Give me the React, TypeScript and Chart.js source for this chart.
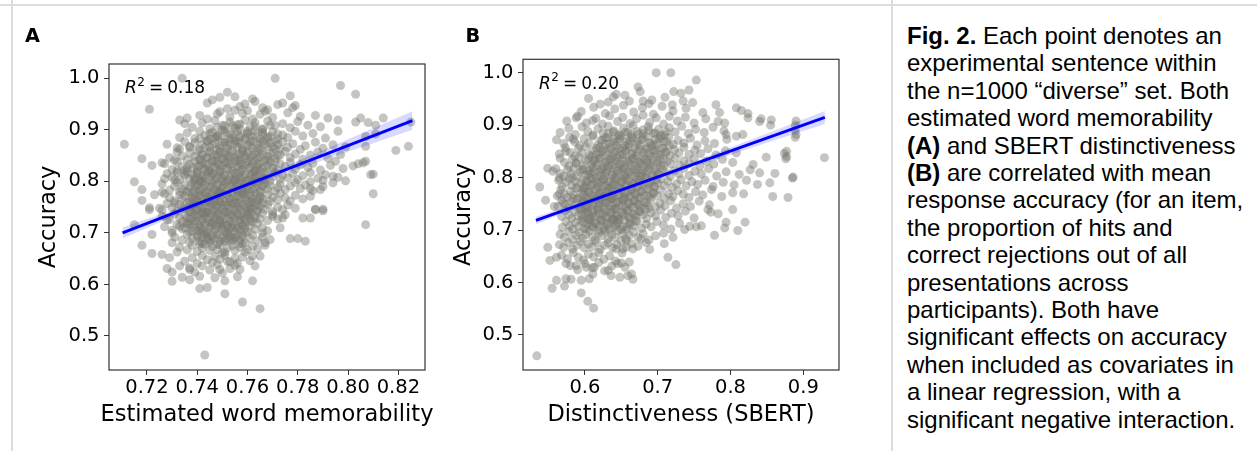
import React, { useEffect, useRef } from "react";
import { Chart, registerables } from "chart.js";
Chart.register(...registerables);

// ---------- Panel A: estimated word memorability vs accuracy ----------
const pointsA: number[][] = [
  [.734,1.0],[.771,1.0],[.797,.986],[.803,.969],[.721,.94],[.711,.872],
  [.749,.963],[.752,.973],[.755,.964],[.762,.96],[.777,.966],[.772,.949],[.778,.943],[.779,.947],[.759,.95],
  [.733,.919],[.736,.923],[.748,.931],[.766,.943],
  [.787,.928],[.792,.923],[.796,.919],[.803,.915],[.805,.923],[.808,.914],[.811,.909],[.814,.923],[.825,.915],
  [.819,.86],[.824,.868],[.807,.887],[.811,.892],[.807,.868],
  [.804,.834],[.807,.839],[.802,.83],[.795,.839],[.81,.814],[.81,.776],[.806,.836],[.809,.813],
  [.799,.801],[.794,.81],[.79,.802],[.785,.799],[.789,.784],[.785,.786],[.787,.746],[.79,.746],
  [.718,.844],[.722,.831],[.726,.836],[.715,.799],[.718,.784],[.718,.763],[.723,.774],[.726,.779],[.721,.749],[.725,.748],
  [.733,.863],[.737,.866],[.741,.883],[.748,.889],[.751,.908],[.756,.91],
  [.731,.803],[.727,.805],[.735,.815],[.732,.821],
  [.807,.716],[.743,.463],[.765,.553],[.758,.566],[.751,.582],
  [.741,.592],[.744,.594],[.73,.606],[.734,.614],[.737,.609],[.741,.616],[.747,.613],[.751,.607],[.756,.615],[.762,.607],[.763,.636],
  [.728,.631],[.73,.624],[.733,.636],[.737,.629],
  [.718,.676],[.722,.66],[.726,.658],[.729,.652],[.732,.663],
  [.777,.689],[.78,.689],[.783,.684],[.785,.729],[.782,.729],[.79,.743],[.787,.745],
  [.765,.655],[.762,.655],[.759,.663],[.757,.629],[.749,.629],[.752,.645],
  [.715,.716],[.722,.697],[.721,.745],[.73,.681],[.733,.713],[.73,.7],[.728,.726],
  [.767,.681],[.766,.7],[.773,.71],[.774,.729],[.77,.736],
  [.744,.952],[.757,.945],[.763,.955],[.768,.939],[.752,.941],[.746,.958],[.774,.952],[.76,.937],
  [.741,.928],[.749,.935],[.753,.925],[.758,.932],[.762,.921],[.765,.93],[.77,.924],[.776,.933],[.744,.921],[.781,.926],[.755,.938],[.767,.936],
  [.738,.905],[.742,.913],[.745,.902],[.747,.918],[.75,.909],[.753,.915],[.755,.903],[.757,.911],[.759,.919],[.761,.906],[.763,.914],[.766,.902],[.768,.917],[.771,.908],[.774,.912],[.777,.904],[.78,.916],[.784,.909],[.789,.906],[.735,.912],
  [.733,.885],[.736,.894],[.739,.883],[.741,.897],[.743,.889],[.745,.882],[.746,.895],[.748,.886],[.75,.899],[.751,.881],[.753,.892],[.754,.884],[.756,.897],[.757,.888],[.759,.881],[.76,.893],[.762,.886],[.763,.898],[.765,.883],[.766,.891],[.768,.886],[.77,.896],[.772,.882],[.774,.89],[.776,.885],[.779,.897],[.782,.888],[.786,.893],[.791,.884],[.796,.897],
  [.728,.872],[.732,.865],[.735,.877],[.737,.868],[.739,.875],[.741,.862],[.742,.871],[.744,.878],[.745,.866],[.747,.874],[.748,.861],[.749,.869],[.751,.876],[.752,.864],[.753,.872],[.755,.879],[.756,.867],[.757,.873],[.758,.861],[.76,.87],[.761,.877],[.762,.865],[.764,.872],[.765,.862],[.766,.878],[.768,.868],[.769,.874],[.771,.863],[.772,.871],[.774,.877],[.776,.866],[.778,.873],[.781,.862],[.783,.869],[.787,.876],[.79,.864],[.794,.871],[.799,.867],
  [.729,.846],[.732,.857],[.734,.849],[.736,.842],[.737,.855],[.739,.848],[.74,.859],[.741,.843],[.742,.851],[.744,.846],[.745,.856],[.746,.841],[.747,.852],[.748,.847],[.749,.858],[.75,.844],[.751,.853],[.752,.849],[.753,.841],[.754,.856],[.755,.846],[.756,.852],[.757,.843],[.758,.858],[.759,.849],[.76,.854],[.761,.842],[.762,.85],[.763,.857],[.764,.845],[.766,.853],[.767,.841],[.768,.848],[.77,.856],[.771,.844],[.773,.851],[.775,.858],[.777,.846],[.779,.853],[.782,.843],[.785,.851],[.788,.857],[.792,.845],[.797,.852],[.731,.841],
  [.727,.834],[.73,.823],[.732,.838],[.734,.829],[.735,.821],[.737,.833],[.738,.826],[.739,.839],[.74,.822],[.741,.831],[.742,.836],[.743,.825],[.744,.832],[.745,.821],[.746,.838],[.747,.828],[.748,.834],[.749,.823],[.75,.831],[.751,.837],[.752,.826],[.753,.833],[.754,.822],[.755,.839],[.756,.829],[.757,.835],[.758,.824],[.759,.831],[.76,.838],[.761,.827],[.762,.834],[.763,.821],[.764,.829],[.765,.836],[.766,.825],[.768,.832],[.769,.839],[.77,.827],[.772,.822],[.773,.834],[.775,.829],[.777,.837],[.779,.824],[.781,.832],[.784,.827],[.786,.835],[.789,.822],[.793,.831],[.798,.825],[.736,.826],
  [.728,.815],[.73,.808],[.732,.817],[.733,.803],[.735,.811],[.736,.818],[.737,.805],[.738,.813],[.739,.808],[.74,.816],[.741,.802],[.742,.811],[.743,.806],[.744,.818],[.745,.809],[.746,.814],[.747,.803],[.748,.811],[.749,.817],[.75,.806],[.751,.813],[.752,.801],[.753,.809],[.754,.815],[.755,.804],[.756,.812],[.757,.818],[.758,.807],[.759,.813],[.76,.802],[.761,.81],[.762,.816],[.763,.805],[.764,.812],[.765,.819],[.766,.808],[.767,.803],[.768,.814],[.77,.809],[.771,.817],[.773,.804],[.774,.812],[.776,.807],[.778,.815],[.78,.803],[.782,.811],[.785,.817],[.788,.806],[.791,.813],[.796,.808],[.739,.801],[.745,.819],[.75,.8],[.757,.801],[.763,.819],[.769,.801],
  [.726,.795],[.729,.783],[.731,.791],[.732,.798],[.734,.785],[.735,.793],[.736,.781],[.737,.789],[.738,.796],[.739,.784],[.74,.792],[.741,.799],[.742,.787],[.743,.794],[.744,.782],[.745,.79],[.746,.797],[.747,.785],[.748,.793],[.749,.781],[.75,.788],[.751,.795],[.752,.783],[.753,.791],[.754,.798],[.755,.786],[.756,.793],[.757,.781],[.758,.789],[.759,.796],[.76,.784],[.761,.792],[.762,.799],[.763,.787],[.764,.794],[.765,.782],[.766,.79],[.767,.797],[.768,.785],[.769,.792],[.771,.781],[.772,.788],[.773,.795],[.775,.784],[.777,.791],[.779,.798],[.781,.786],[.783,.793],[.786,.782],[.79,.79],[.794,.797],[.742,.8],[.748,.78],[.755,.8],[.758,.78],[.764,.8],[.733,.78],
  [.727,.776],[.729,.768],[.731,.762],[.733,.774],[.734,.766],[.736,.779],[.737,.761],[.738,.77],[.739,.775],[.74,.763],[.741,.772],[.742,.767],[.743,.778],[.744,.761],[.745,.769],[.746,.775],[.747,.764],[.748,.772],[.749,.779],[.75,.766],[.751,.761],[.752,.774],[.753,.768],[.754,.777],[.755,.762],[.756,.771],[.757,.765],[.758,.776],[.759,.769],[.76,.762],[.761,.774],[.762,.767],[.763,.778],[.764,.763],[.765,.771],[.766,.766],[.768,.775],[.769,.761],[.77,.769],[.772,.764],[.773,.777],[.775,.768],[.777,.762],[.779,.773],[.782,.766],[.785,.771],[.744,.77],[.75,.776],[.756,.779],[.741,.78],[.747,.76],[.753,.76],[.759,.78],[.735,.771],[.762,.76],[.739,.766],
  [.726,.745],[.728,.757],[.73,.749],[.732,.742],[.733,.755],[.735,.747],[.736,.759],[.737,.741],[.738,.751],[.739,.756],[.74,.744],[.741,.753],[.742,.748],[.743,.758],[.744,.741],[.745,.75],[.746,.755],[.747,.744],[.748,.752],[.749,.759],[.75,.746],[.751,.741],[.752,.754],[.753,.748],[.754,.757],[.755,.743],[.756,.751],[.757,.746],[.758,.756],[.759,.749],[.76,.742],[.761,.753],[.762,.747],[.763,.758],[.764,.744],[.765,.751],[.767,.746],[.768,.755],[.77,.741],[.772,.75],[.774,.745],[.776,.754],[.779,.748],[.745,.76],[.75,.755],[.739,.746],[.756,.758],[.742,.741],[.748,.742],[.734,.75],[.761,.746],[.766,.758],[.731,.758],
  [.726,.733],[.729,.726],[.731,.737],[.733,.729],[.734,.722],[.735,.735],[.737,.727],[.738,.739],[.739,.723],[.74,.731],[.741,.736],[.742,.724],[.743,.733],[.744,.728],[.745,.738],[.746,.721],[.747,.73],[.748,.735],[.749,.725],[.75,.732],[.751,.739],[.752,.727],[.753,.721],[.754,.734],[.755,.729],[.756,.738],[.757,.723],[.758,.731],[.759,.726],[.76,.736],[.761,.729],[.762,.722],[.763,.733],[.765,.727],[.766,.738],[.768,.724],[.77,.732],[.772,.727],[.775,.735],[.744,.739],[.749,.72],[.753,.737],[.738,.73],[.736,.72],[.761,.739],[.747,.726],[.742,.738],[.757,.734],
  [.727,.712],[.73,.705],[.732,.716],[.734,.708],[.736,.718],[.737,.702],[.738,.711],[.739,.717],[.74,.704],[.741,.713],[.742,.708],[.743,.719],[.744,.701],[.745,.71],[.746,.715],[.747,.705],[.748,.712],[.749,.718],[.75,.707],[.751,.702],[.752,.714],[.753,.709],[.754,.717],[.755,.703],[.756,.711],[.757,.706],[.758,.716],[.759,.709],[.76,.702],[.761,.713],[.763,.707],[.764,.718],[.766,.71],[.768,.704],[.745,.719],[.75,.715],[.741,.703],[.754,.711],[.735,.71],[.759,.719],
  [.731,.692],[.734,.686],[.736,.697],[.737,.682],[.738,.69],[.74,.695],[.741,.684],[.742,.692],[.743,.698],[.744,.687],[.745,.681],[.746,.694],[.747,.689],[.748,.697],[.749,.683],[.75,.691],[.751,.686],[.752,.699],[.753,.693],[.754,.684],[.755,.69],[.756,.696],[.757,.686],[.758,.693],[.759,.681],[.761,.689],[.762,.696],[.764,.685],[.766,.692],[.769,.687],[.744,.693],[.752,.688],
  [.733,.672],[.736,.667],[.738,.676],[.74,.664],[.742,.671],[.743,.678],[.745,.666],[.746,.673],[.748,.668],[.749,.677],[.751,.663],[.752,.671],[.754,.675],[.755,.666],[.757,.672],[.758,.679],[.76,.667],[.762,.674],[.764,.669],[.767,.676],[.741,.679],[.75,.661],
  [.735,.645],[.738,.652],[.74,.641],[.742,.656],[.744,.648],[.746,.643],[.747,.654],[.749,.649],[.751,.657],[.753,.644],[.755,.651],[.756,.641],[.758,.653],[.761,.646],
  [.737,.632],[.739,.624],[.742,.636],[.745,.628],[.748,.638],[.75,.622],[.753,.631],[.755,.637],
];

// dense centre of the panel A cloud
const coreA: number[][] = [
  [.748,.905],[.751,.899],[.754,.908],[.757,.902],[.76,.897],[.763,.906],[.766,.9],[.769,.909],
  [.745,.893],[.748,.888],[.751,.895],[.754,.89],[.757,.886],[.76,.894],[.763,.889],[.766,.895],[.769,.887],[.772,.892],
  [.744,.879],[.747,.884],[.75,.876],[.753,.882],[.756,.877],[.759,.884],[.762,.879],[.765,.876],[.768,.883],[.771,.878],
  [.743,.866],[.746,.871],[.749,.864],[.752,.869],[.755,.873],[.758,.865],[.761,.87],[.764,.864],[.767,.872],[.77,.867],[.773,.863],
  [.742,.853],[.745,.858],[.748,.851],[.751,.856],[.754,.86],[.757,.852],[.76,.857],[.763,.851],[.766,.859],[.769,.854],[.772,.85],
  [.741,.842],[.744,.846],[.747,.839],[.75,.844],[.753,.848],[.756,.84],[.759,.845],[.762,.839],[.765,.847],[.768,.842],[.771,.838],
  [.74,.829],[.743,.834],[.746,.827],[.749,.832],[.752,.836],[.755,.828],[.758,.833],[.761,.826],[.764,.834],[.767,.829],[.77,.825],
  [.74,.817],[.743,.822],[.746,.815],[.749,.82],[.752,.824],[.755,.816],[.758,.821],[.761,.814],[.764,.822],[.767,.817],
  [.739,.804],[.742,.809],[.745,.802],[.748,.807],[.751,.811],[.754,.803],[.757,.808],[.76,.801],[.763,.809],[.766,.804],
  [.739,.792],[.742,.797],[.745,.79],[.748,.795],[.751,.799],[.754,.791],[.757,.796],[.76,.789],[.763,.797],[.766,.792],
  [.738,.779],[.741,.784],[.744,.777],[.747,.782],[.75,.786],[.753,.778],[.756,.783],[.759,.776],[.762,.784],[.765,.779],
  [.738,.767],[.741,.772],[.744,.765],[.747,.77],[.75,.774],[.753,.766],[.756,.771],[.759,.764],[.762,.772],[.765,.767],
  [.737,.754],[.74,.759],[.743,.752],[.746,.757],[.749,.761],[.752,.753],[.755,.758],[.758,.751],[.761,.759],[.764,.754],
  [.737,.742],[.74,.747],[.743,.74],[.746,.745],[.749,.749],[.752,.741],[.755,.746],[.758,.739],[.761,.747],[.764,.742],
  [.736,.729],[.739,.734],[.742,.727],[.745,.732],[.748,.736],[.751,.728],[.754,.733],[.757,.726],[.76,.734],[.763,.729],
  [.737,.717],[.74,.722],[.743,.715],[.746,.72],[.749,.724],[.752,.716],[.755,.721],[.758,.714],[.761,.722],
  [.738,.704],[.741,.709],[.744,.702],[.747,.707],[.75,.711],[.753,.703],[.756,.708],[.759,.701],
  [.74,.692],[.743,.697],[.746,.69],[.749,.695],[.752,.699],[.755,.691],[.758,.696],
  [.742,.68],[.745,.685],[.748,.678],[.751,.683],[.754,.687],[.757,.679],
];

// regression fit and 95% band (panel A)
const fitXA = [0.7103, 0.8256];
const fitYA = [0.700, 0.918];
const bandXA = [0.7103, 0.72, 0.73, 0.74, 0.752, 0.765, 0.78, 0.795, 0.81, 0.8256];
const bandLowA = [0.6893, 0.7097, 0.7307, 0.7513, 0.7749, 0.7983, 0.824, 0.8492, 0.8741, 0.900];
const bandHighA = [0.7107, 0.7269, 0.7439, 0.7611, 0.7829, 0.8085, 0.8396, 0.8712, 0.9029, 0.936];

// ---------- Panel B: SBERT distinctiveness vs accuracy ----------
const pointsB: number[][] = [
  [.698,1.0],[.718,1.0],[.753,.986],[.673,.973],[.676,.964],[.722,.964],[.732,.961],[.743,.967],[.643,.959],[.639,.954],
  [.621,.94],[.588,.914],[.611,.909],[.661,.946],[.68,.946],[.692,.948],
  [.72,.939],[.748,.943],[.78,.939],[.808,.933],[.824,.922],[.842,.912],[.856,.91],
  [.89,.908],[.89,.882],[.929,.838],
  [.874,.846],[.876,.836],[.885,.799],[.879,.762],[.858,.764],[.818,.769],
  [.831,.825],[.84,.809],[.854,.79],[.837,.787],
  [.794,.882],[.817,.882],[.808,.879],[.792,.904],[.785,.924],
  [.849,.839],[.861,.808],[.886,.801],[.877,.85],[.877,.84],[.889,.9],[.889,.89],[.889,.877],[.84,.907],[.855,.9],[.815,.928],[.824,.914],
  [.538,.782],[.549,.818],[.556,.812],[.565,.799],[.574,.85],[.584,.873],[.588,.828],[.597,.815],[.609,.841],[.546,.757],
  [.558,.745],[.57,.752],[.565,.768],
  [.534,.46],[.612,.551],[.604,.564],[.595,.58],
  [.555,.589],[.572,.593],[.561,.604],[.574,.607],[.581,.606],[.595,.604],[.606,.607],[.611,.616],
  [.636,.613],[.648,.61],[.659,.613],[.666,.606],[.664,.616],
  [.632,.623],[.655,.629],[.645,.636],[.661,.639],
  [.549,.667],[.552,.642],[.561,.648],[.574,.636],[.588,.632],[.602,.629],[.613,.629],
  [.714,.648],[.725,.634],[.689,.663],[.709,.674],
  [.778,.69],[.81,.699],[.82,.715],[.794,.715],[.792,.704],
  [.753,.706],[.76,.708],[.737,.701],[.773,.734],[.783,.731],[.803,.739],[.769,.739],
  [.666,.664],[.677,.683],[.657,.68],[.652,.664],[.643,.664],
  [.605,.951],[.632,.944],[.655,.957],[.688,.941],[.71,.953],[.735,.946],
  [.595,.926],[.612,.934],[.628,.922],[.641,.931],[.653,.938],[.667,.925],[.679,.933],[.694,.921],[.706,.936],[.721,.927],[.739,.932],[.762,.924],
  [.575,.908],[.59,.917],[.602,.904],[.615,.913],[.624,.902],[.634,.918],[.645,.907],[.652,.915],[.662,.903],[.671,.912],[.68,.919],[.689,.905],[.698,.914],[.708,.902],[.716,.917],[.727,.908],[.738,.915],[.75,.904],[.766,.912],[.783,.907],
  [.566,.886],[.578,.894],[.587,.882],[.596,.897],[.604,.888],[.611,.881],[.618,.893],[.625,.885],[.632,.898],[.639,.887],[.646,.881],[.653,.894],[.659,.886],[.666,.899],[.673,.883],[.68,.891],[.687,.897],[.694,.884],[.701,.892],[.709,.881],[.716,.895],[.724,.887],[.733,.898],[.742,.884],[.752,.892],[.764,.886],[.776,.896],[.791,.889],
  [.561,.872],[.571,.865],[.579,.877],[.586,.868],[.593,.861],[.599,.874],[.605,.866],[.611,.879],[.617,.862],[.622,.871],[.628,.876],[.633,.864],[.639,.873],[.644,.868],[.65,.878],[.655,.861],[.661,.87],[.666,.875],[.672,.864],[.678,.872],[.684,.879],[.69,.866],[.696,.861],[.702,.874],[.708,.869],[.715,.877],[.721,.863],[.728,.871],[.736,.866],[.745,.875],[.754,.862],[.765,.87],[.778,.865],[.795,.873],
  [.565,.845],[.573,.857],[.58,.848],[.586,.841],[.591,.855],[.596,.847],[.601,.859],[.606,.843],[.611,.851],[.616,.856],[.62,.844],[.625,.853],[.629,.848],[.634,.858],[.638,.841],[.643,.85],[.647,.855],[.652,.844],[.656,.852],[.661,.859],[.665,.846],[.67,.841],[.675,.854],[.68,.848],[.685,.857],[.69,.842],[.695,.851],[.7,.846],[.706,.856],[.711,.849],[.717,.842],[.723,.853],[.729,.847],[.736,.858],[.743,.844],[.751,.852],[.759,.846],[.769,.855],[.78,.843],[.793,.851],[.808,.847],
  [.566,.837],[.572,.829],[.578,.822],[.583,.835],[.588,.827],[.592,.839],[.597,.824],[.601,.832],[.605,.836],[.609,.825],[.613,.833],[.617,.828],[.621,.838],[.625,.821],[.629,.83],[.633,.835],[.637,.824],[.641,.832],[.645,.839],[.649,.826],[.653,.821],[.657,.834],[.661,.828],[.665,.837],[.669,.822],[.673,.831],[.677,.826],[.681,.836],[.686,.829],[.69,.822],[.694,.833],[.699,.827],[.703,.838],[.708,.823],[.713,.831],[.718,.826],[.724,.837],[.73,.824],[.736,.832],[.743,.827],[.75,.836],[.758,.822],[.767,.831],[.777,.826],[.789,.835],[.803,.829],
  [.56,.817],[.566,.808],[.571,.802],[.576,.815],[.581,.807],[.585,.818],[.589,.803],[.593,.811],[.597,.816],[.601,.805],[.605,.813],[.608,.808],[.612,.818],[.616,.801],[.619,.81],[.623,.815],[.627,.804],[.63,.812],[.634,.819],[.638,.806],[.641,.801],[.645,.814],[.649,.808],[.652,.817],[.656,.802],[.66,.811],[.664,.806],[.668,.816],[.672,.809],[.676,.802],[.68,.813],[.684,.807],[.688,.818],[.693,.803],[.697,.811],[.702,.806],[.707,.816],[.712,.809],[.717,.802],[.723,.813],[.729,.807],[.736,.818],[.743,.804],[.751,.812],[.76,.807],[.77,.817],[.781,.803],[.794,.811],[.812,.806],[.827,.815],
  [.564,.795],[.569,.783],[.574,.791],[.578,.798],[.582,.785],[.586,.793],[.59,.781],[.594,.789],[.597,.796],[.601,.784],[.604,.792],[.608,.799],[.611,.787],[.615,.794],[.618,.782],[.622,.79],[.625,.797],[.629,.785],[.632,.793],[.636,.781],[.639,.788],[.643,.795],[.646,.783],[.65,.791],[.653,.798],[.657,.786],[.66,.794],[.664,.782],[.668,.789],[.671,.796],[.675,.784],[.679,.792],[.683,.799],[.687,.787],[.691,.794],[.695,.782],[.7,.79],[.704,.797],[.709,.785],[.714,.793],[.72,.781],[.726,.788],[.732,.796],[.739,.784],[.747,.792],[.755,.787],[.765,.795],[.776,.783],[.79,.791],[.805,.786],[.822,.795],[.583,.8],
  [.562,.765],[.567,.777],[.572,.768],[.576,.762],[.58,.774],[.584,.767],[.588,.779],[.591,.761],[.595,.77],[.598,.775],[.602,.763],[.605,.772],[.609,.767],[.612,.778],[.616,.761],[.619,.769],[.623,.775],[.626,.764],[.63,.772],[.633,.779],[.637,.766],[.64,.761],[.644,.774],[.647,.768],[.651,.777],[.654,.762],[.658,.771],[.661,.765],[.665,.776],[.669,.769],[.673,.762],[.677,.774],[.681,.767],[.685,.778],[.689,.763],[.694,.771],[.699,.766],[.704,.776],[.709,.761],[.715,.769],[.721,.764],[.728,.775],[.735,.768],[.743,.762],[.752,.773],[.762,.767],[.774,.777],[.788,.764],[.803,.771],[.598,.78],[.637,.76],
  [.563,.745],[.568,.757],[.573,.749],[.577,.742],[.581,.755],[.585,.747],[.589,.759],[.592,.741],[.596,.751],[.599,.756],[.603,.744],[.606,.753],[.61,.748],[.613,.758],[.617,.741],[.62,.75],[.624,.755],[.627,.744],[.631,.752],[.634,.759],[.638,.746],[.641,.741],[.645,.754],[.648,.748],[.652,.757],[.656,.743],[.66,.751],[.664,.746],[.668,.756],[.672,.749],[.676,.742],[.681,.753],[.686,.747],[.691,.758],[.697,.744],[.703,.751],[.71,.746],[.718,.756],[.726,.742],[.735,.75],[.745,.745],[.757,.755],[.771,.748],[.584,.76],[.622,.76],[.655,.76],[.688,.741],
  [.568,.726],[.573,.737],[.578,.729],[.582,.722],[.586,.735],[.59,.727],[.594,.739],[.597,.723],[.601,.731],[.604,.736],[.608,.724],[.611,.733],[.615,.728],[.618,.738],[.622,.721],[.625,.73],[.629,.735],[.632,.724],[.636,.732],[.639,.739],[.643,.726],[.646,.721],[.65,.734],[.654,.728],[.658,.737],[.662,.722],[.666,.731],[.67,.726],[.675,.736],[.68,.729],[.685,.722],[.691,.733],[.697,.727],[.704,.738],[.711,.724],[.719,.732],[.728,.727],[.738,.736],[.75,.723],[.6,.74],[.64,.72],
  [.569,.705],[.574,.716],[.579,.708],[.583,.702],[.587,.714],[.591,.707],[.595,.718],[.599,.703],[.603,.711],[.607,.716],[.611,.705],[.615,.713],[.619,.708],[.623,.718],[.627,.701],[.631,.71],[.635,.715],[.639,.704],[.643,.712],[.647,.719],[.652,.706],[.657,.701],[.662,.714],[.667,.708],[.672,.717],[.678,.703],[.684,.711],[.691,.706],[.699,.716],[.708,.709],[.718,.702],[.73,.713],[.744,.707],[.605,.72],[.638,.72],
  [.566,.692],[.572,.686],[.578,.697],[.583,.682],[.588,.69],[.592,.695],[.597,.684],[.601,.692],[.606,.698],[.61,.687],[.614,.681],[.619,.694],[.623,.689],[.628,.697],[.632,.683],[.637,.691],[.641,.686],[.646,.699],[.651,.693],[.656,.684],[.661,.69],[.667,.696],[.673,.686],[.68,.693],[.688,.681],[.697,.689],[.708,.694],[.721,.686],
  [.565,.672],[.571,.667],[.577,.676],[.583,.664],[.589,.671],[.594,.678],[.599,.666],[.605,.673],[.61,.668],[.616,.677],[.621,.663],[.627,.671],[.632,.675],[.638,.666],[.644,.672],[.65,.679],[.657,.667],[.664,.674],[.673,.669],[.684,.676],
  [.568,.652],[.576,.645],[.584,.657],[.591,.648],[.598,.643],[.605,.654],[.612,.649],[.619,.657],[.626,.644],[.634,.651],[.642,.641],[.651,.656],
  [.58,.632],[.59,.624],[.6,.636],[.61,.628],[.619,.638],[.627,.622],[.637,.631],[.65,.637],
];

// dense centre of the panel B cloud
const coreB: number[][] = [
  [.632,.884],[.64,.889],[.648,.881],[.656,.887],[.664,.882],[.672,.888],[.68,.883],[.688,.89],[.696,.885],[.704,.881],[.712,.887],
  [.624,.871],[.632,.876],[.64,.868],[.648,.874],[.656,.869],[.664,.877],[.672,.87],[.68,.875],[.688,.867],[.696,.873],[.704,.878],[.712,.869],
  [.62,.858],[.628,.863],[.636,.855],[.644,.861],[.652,.856],[.66,.864],[.668,.857],[.676,.862],[.684,.854],[.692,.86],[.7,.865],[.708,.856],[.716,.861],
  [.616,.845],[.624,.85],[.632,.842],[.64,.848],[.648,.843],[.656,.851],[.664,.844],[.672,.849],[.68,.841],[.688,.847],[.696,.852],[.704,.843],[.712,.848],
  [.612,.832],[.62,.837],[.628,.829],[.636,.835],[.644,.83],[.652,.838],[.66,.831],[.668,.836],[.676,.828],[.684,.834],[.692,.839],[.7,.83],[.708,.835],
  [.608,.819],[.616,.824],[.624,.816],[.632,.822],[.64,.817],[.648,.825],[.656,.818],[.664,.823],[.672,.815],[.68,.821],[.688,.826],[.696,.817],[.704,.822],
  [.605,.806],[.613,.811],[.621,.803],[.629,.809],[.637,.804],[.645,.812],[.653,.805],[.661,.81],[.669,.802],[.677,.808],[.685,.813],[.693,.804],[.701,.809],
  [.602,.793],[.61,.798],[.618,.79],[.626,.796],[.634,.791],[.642,.799],[.65,.792],[.658,.797],[.666,.789],[.674,.795],[.682,.8],[.69,.791],[.698,.796],
  [.6,.78],[.608,.785],[.616,.777],[.624,.783],[.632,.778],[.64,.786],[.648,.779],[.656,.784],[.664,.776],[.672,.782],[.68,.787],[.688,.778],[.696,.783],
  [.598,.767],[.606,.772],[.614,.764],[.622,.77],[.63,.765],[.638,.773],[.646,.766],[.654,.771],[.662,.763],[.67,.769],[.678,.774],[.686,.765],[.694,.77],
  [.596,.754],[.604,.759],[.612,.751],[.62,.757],[.628,.752],[.636,.76],[.644,.753],[.652,.758],[.66,.75],[.668,.756],[.676,.761],[.684,.752],
  [.595,.741],[.603,.746],[.611,.738],[.619,.744],[.627,.739],[.635,.747],[.643,.74],[.651,.745],[.659,.737],[.667,.743],[.675,.748],[.683,.739],
  [.596,.728],[.604,.733],[.612,.725],[.62,.731],[.628,.726],[.636,.734],[.644,.727],[.652,.732],[.66,.724],[.668,.73],[.676,.735],
  [.598,.715],[.606,.72],[.614,.712],[.622,.718],[.63,.713],[.638,.721],[.646,.714],[.654,.719],[.662,.711],[.67,.717],
  [.602,.702],[.61,.707],[.618,.699],[.626,.705],[.634,.7],[.642,.708],[.65,.701],[.658,.706],
];

const fitXB = [0.5328, 0.9296];
const fitYB = [0.7184, 0.9147];
const bandXB = [0.5328, 0.56, 0.6, 0.64, 0.665, 0.70, 0.75, 0.80, 0.85, 0.9296];
const bandLowB = [0.7116, 0.7262, 0.7474, 0.7682, 0.7808, 0.7977, 0.8209, 0.8437, 0.8664, 0.9022];
const bandHighB = [0.7252, 0.7376, 0.7558, 0.7746, 0.7868, 0.8045, 0.8307, 0.8575, 0.8842, 0.9272];

// ---------- axes ----------
const yTicks = [0.5, 0.6, 0.7, 0.8, 0.9, 1.0];
const xTicksA = [0.72, 0.74, 0.76, 0.78, 0.8, 0.82];
const xTicksB = [0.6, 0.7, 0.8, 0.9];
const xRangeA = [0.7049, 0.8306];
const xRangeB = [0.515, 0.949];
const yRangeA = [0.434, 1.0277];
const yRangeB = [0.433, 1.0256];
const r2Labels = ["0.18", "0.20"];
const xTitles = ["Estimated word memorability", "Distinctiveness (SBERT)"];
const yTitle = "Accuracy";

const FONT = "DejaVu Sans";
const POINT_COLOR = "rgba(120,120,112,0.44)";
const TITLE_SIZE = 22.5;
const TICK_SIZE = 19.5;

type Panel = {
  points: number[][];
  fitX: number[]; fitY: number[];
  bandX: number[]; bandLow: number[]; bandHigh: number[];
  xTicks: number[]; xDec: number; xRange: number[]; yRange: number[];
  xTitle: string; r2: string;
  yAxisW: number; padTop: number; padRight: number; yTitlePad: number;
};

const spinesPlugin = {
  id: "spines",
  afterDraw(chart: any) {
    const { ctx, chartArea: a } = chart;
    ctx.save();
    ctx.strokeStyle = "#333333";
    ctx.lineWidth = 1.2;
    ctx.strokeRect(a.left, a.top, a.right - a.left, a.bottom - a.top);
    ctx.restore();
  },
};

// x-axis title drawn without Chart.js's maxWidth squeeze (the label is wider than the axes)
function xTitlePlugin(text: string) {
  return {
    id: "xtitle",
    afterDraw(chart: any) {
      const { ctx, chartArea: a } = chart;
      ctx.save();
      ctx.fillStyle = "#000";
      ctx.textAlign = "center";
      ctx.textBaseline = "alphabetic";
      ctx.font = `${TITLE_SIZE}px "${FONT}"`;
      ctx.fillText(text, (a.left + a.right) / 2, 420.7);
      ctx.restore();
    },
  };
}

function r2Plugin(value: string) {
  return {
    id: "r2label",
    afterDatasetsDraw(chart: any) {
      const { ctx, chartArea: a } = chart;
      const x = a.left + 16;
      const y = a.top + 29.3;
      ctx.save();
      ctx.fillStyle = "#000";
      ctx.textAlign = "left";
      ctx.textBaseline = "alphabetic";
      ctx.font = `italic 17px "${FONT}"`;
      ctx.fillText("R", x, y);
      let cx = x + ctx.measureText("R").width + 0.5;
      ctx.font = `12px "${FONT}"`;
      ctx.fillText("2", cx, y - 7.5);
      cx += ctx.measureText("2").width + 4;
      ctx.font = `17px "${FONT}"`;
      ctx.fillText("=", cx, y);
      cx += ctx.measureText("=").width + 4;
      ctx.fillText(value, cx, y);
      ctx.restore();
    },
  };
}

function buildChart(canvas: HTMLCanvasElement, p: Panel) {
  const pts = p.points.map(([x, y]) => ({ x, y }));
  const low = p.bandX.map((x, i) => ({ x, y: p.bandLow[i] }));
  const high = p.bandX.map((x, i) => ({ x, y: p.bandHigh[i] }));
  const fit = p.fitX.map((x, i) => ({ x, y: p.fitY[i] }));
  const tickFont = { family: FONT, size: TICK_SIZE };
  const titleFont = { family: FONT, size: TITLE_SIZE };
  return new Chart(canvas, {
    type: "scatter",
    data: {
      datasets: [
        { data: pts, pointRadius: 4.5, pointBackgroundColor: POINT_COLOR, pointBorderWidth: 0, pointHoverRadius: 4.5, order: 3 } as any,
        { type: "line", data: low, borderWidth: 0, pointRadius: 0, fill: false, order: 2, borderColor: "rgba(0,0,0,0)" } as any,
        { type: "line", data: high, borderWidth: 0, pointRadius: 0, fill: "-1", backgroundColor: "rgba(0,0,255,0.15)", order: 2, borderColor: "rgba(0,0,0,0)" } as any,
        { type: "line", data: fit, borderWidth: 3, borderColor: "#0000ff", pointRadius: 0, fill: false, order: 1 } as any,
      ],
    },
    options: {
      animation: false,
      responsive: false,
      devicePixelRatio: 1,
      events: [],
      layout: { padding: { left: 0, right: p.padRight, top: p.padTop, bottom: 0 } },
      plugins: { legend: { display: false }, tooltip: { enabled: false } },
      scales: {
        x: {
          type: "linear",
          position: "bottom",
          min: p.xRange[0],
          max: p.xRange[1],
          afterBuildTicks: (s: any) => { s.ticks = p.xTicks.map((v) => ({ value: v })); },
          afterFit: (s: any) => { s.height = 81; },
          ticks: { callback: (v: any) => Number(v).toFixed(p.xDec), font: tickFont, color: "#000", padding: 1.5, maxRotation: 0, autoSkip: false },
          grid: { display: true, drawOnChartArea: false, drawTicks: true, tickLength: 5, color: "#333", lineWidth: 1 },
          border: { display: false },
          title: { display: false },
        },
        y: {
          type: "linear",
          min: p.yRange[0],
          max: p.yRange[1],
          afterBuildTicks: (s: any) => { s.ticks = yTicks.map((v) => ({ value: v })); },
          afterFit: (s: any) => { s.width = p.yAxisW; },
          ticks: { callback: (v: any) => Number(v).toFixed(1), font: tickFont, color: "#000", padding: 4.5, autoSkip: false },
          grid: { display: true, drawOnChartArea: false, drawTicks: true, tickLength: 5, color: "#333", lineWidth: 1 },
          border: { display: false },
          title: { display: true, text: yTitle, font: titleFont, color: "#000", padding: { top: p.yTitlePad, bottom: 0 } },
        },
      },
    } as any,
    plugins: [spinesPlugin, r2Plugin(p.r2), xTitlePlugin(p.xTitle)],
  });
}

const panelA: Panel = {
  points: pointsA.concat(coreA), fitX: fitXA, fitY: fitYA, bandX: bandXA, bandLow: bandLowA, bandHigh: bandHighA,
  xTicks: xTicksA, xDec: 2, xRange: xRangeA, yRange: yRangeA, xTitle: xTitles[0], r2: r2Labels[0],
  yAxisW: 109, padTop: 64, padRight: 20, yTitlePad: 36,
};
const panelB: Panel = {
  points: pointsB.concat(coreB), fitX: fitXB, fitY: fitYB, bandX: bandXB, bandLow: bandLowB, bandHigh: bandHighB,
  xTicks: xTicksB, xDec: 1, xRange: xRangeB, yRange: yRangeB, xTitle: xTitles[1], r2: r2Labels[1],
  yAxisW: 78, padTop: 59.3, padRight: 51, yTitlePad: 6,
};

const captionLines: { b?: string; t: string }[] = [
  { b: "Fig. 2.", t: " Each point denotes an" },
  { t: "experimental sentence within" },
  { t: "the n=1000 \u201cdiverse\u201d set. Both" },
  { t: "estimated word memorability" },
  { b: "(A)", t: " and SBERT distinctiveness" },
  { b: "(B)", t: " are correlated with mean" },
  { t: "response accuracy (for an item," },
  { t: "the proportion of hits and" },
  { t: "correct rejections out of all" },
  { t: "presentations across" },
  { t: "participants). Both have" },
  { t: "significant effects on accuracy" },
  { t: "when included as covariates in" },
  { t: "a linear regression, with a" },
  { t: "significant negative interaction." },
];

export default function App() {
  const refA = useRef<HTMLCanvasElement>(null);
  const refB = useRef<HTMLCanvasElement>(null);
  useEffect(() => {
    const a = buildChart(refA.current!, panelA);
    const b = buildChart(refB.current!, panelB);
    return () => { a.destroy(); b.destroy(); };
  }, []);
  const lineStyle = { position: "absolute" as const, background: "#dcdcdc" };
  return (
    <div style={{ position: "fixed", left: 0, top: 0, width: 1257, height: 451, background: "#fff", overflow: "hidden" }}>
      <canvas ref={refA} width={445} height={451} style={{ position: "absolute", left: 0, top: 0 }} />
      <canvas ref={refB} width={445} height={451} style={{ position: "absolute", left: 445, top: 0 }} />
      <div style={{ ...lineStyle, left: 0, top: 4, width: 1257, height: 2 }} />
      <div style={{ ...lineStyle, left: 11, top: 0, width: 2, height: 451 }} />
      <div style={{ ...lineStyle, left: 891, top: 0, width: 2, height: 451 }} />
      <div style={{ position: "absolute", left: 25, top: 25.8, font: `bold 19.3px "${FONT}"`, lineHeight: "19.3px", color: "#000" }}>A</div>
      <div style={{ position: "absolute", left: 465.5, top: 25.8, font: `bold 19.3px "${FONT}"`, lineHeight: "19.3px", color: "#000" }}>B</div>
      <div style={{ position: "absolute", left: 907, top: 22, fontFamily: '"Liberation Sans", Arial, sans-serif', fontSize: 24, lineHeight: "27.4px", color: "#000", whiteSpace: "nowrap" }}>
        {captionLines.map((l, i) => (
          <div key={i}>{l.b ? <b>{l.b}</b> : null}{l.t}</div>
        ))}
      </div>
    </div>
  );
}
